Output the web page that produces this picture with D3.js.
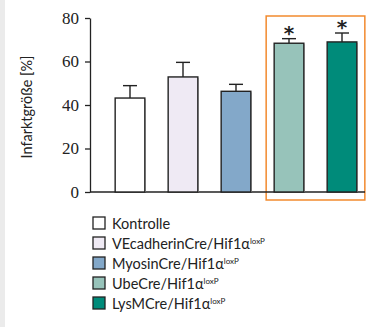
<!DOCTYPE html>
<html>
<head>
<meta charset="utf-8">
<script src="https://cdn.jsdelivr.net/npm/d3@7"></script>
<style>
  body { margin: 0; background: #fff; }
  svg { display: block; }
</style>
</head>
<body>
<div id="chart"></div>
<script>
// data
const groups = ['Kontrolle', 'VEcadherinCre', 'MyosinCre', 'UbeCre', 'LysMCre']
const values = [43.2, 52.9, 46.3, 68.4, 69.0]
const errors = [5.7, 6.7, 3.2, 2.1, 4.1]
const significant = [false, false, false, true, true]
const colors = ['#ffffff', '#efeaf4', '#83a8c9', '#97c3ba', '#008b7a']
const yTicks = [0, 20, 40, 60, 80]

const width = 372
const height = 327

const svg = d3.select('#chart')
  .append('svg')
  .attr('width', width)
  .attr('height', height)

// grey strip at left edge
svg.append('rect')
  .attr('x', 0).attr('y', 0)
  .attr('width', 5).attr('height', height)
  .attr('fill', '#ebebeb')

const x = d3.scaleBand()
  .domain(groups)
  .range([103.5, 368.5])
  .paddingInner(0.44)
  .paddingOuter(0.22)

const y = d3.scaleLinear()
  .domain([0, 80])
  .range([192, 18])

// highlight box round the two significant groups
const boxL = x('UbeCre') - 8
const boxR = x('LysMCre') + x.bandwidth() + 8
svg.append('rect')
  .attr('x', boxL)
  .attr('y', y(80) - 2)
  .attr('width', boxR - boxL)
  .attr('height', y(0) - y(80) + 10)
  .attr('fill', 'none')
  .attr('stroke', '#f28a2e')
  .attr('stroke-width', 1.5)

// y axis
const yAxisG = svg.append('g')
  .attr('transform', 'translate(90,0)')
  .call(d3.axisLeft(y).tickValues(yTicks).tickSize(5).tickSizeOuter(0).tickPadding(6))
yAxisG.selectAll('path, line').attr('stroke', '#222').attr('stroke-width', 1.3)
yAxisG.selectAll('text')
  .attr('fill', '#222')
  .style('font-family', '"Liberation Serif", "DejaVu Serif", serif')
  .style('font-size', '17px')

// x axis line
svg.append('line')
  .attr('x1', 90).attr('x2', 365)
  .attr('y1', y(0)).attr('y2', y(0))
  .attr('stroke', '#222')
  .attr('stroke-width', 1.3)

// y label
svg.append('text')
  .attr('transform', `translate(32,${(y(0) + y(80)) / 2 + 2}) rotate(-90)`)
  .attr('text-anchor', 'middle')
  .attr('fill', '#222')
  .style('font-family', 'Lato, "Open Sans", sans-serif')
  .style('font-size', '14.5px')
  .text('Infarktgröße [%]')

const data = groups.map((g, i) => ({ g, v: values[i], e: errors[i], s: significant[i], c: colors[i] }))

// bar shadows
svg.append('g').selectAll('rect')
  .data(data)
  .enter()
  .append('rect')
  .attr('x', d => x(d.g) + 1)
  .attr('y', d => y(d.v) + 1)
  .attr('width', x.bandwidth())
  .attr('height', d => y(0) - y(d.v) - 1)
  .attr('fill', '#c8c8c8')

// error bars
const err = svg.append('g').attr('stroke', '#222').attr('stroke-width', 1.4)
data.forEach(d => {
  const cx = x(d.g) + x.bandwidth() / 2
  err.append('line')
    .attr('x1', cx).attr('x2', cx)
    .attr('y1', y(d.v)).attr('y2', y(d.v + d.e))
  err.append('line')
    .attr('x1', cx - 7).attr('x2', cx + 7)
    .attr('y1', y(d.v + d.e)).attr('y2', y(d.v + d.e))
})

// bars
svg.append('g').selectAll('rect')
  .data(data)
  .enter()
  .append('rect')
  .attr('x', d => x(d.g))
  .attr('y', d => y(d.v))
  .attr('width', x.bandwidth())
  .attr('height', d => y(0) - y(d.v))
  .attr('fill', d => d.c)
  .attr('stroke', '#222')
  .attr('stroke-width', 1.4)

// significance stars
svg.append('g').selectAll('text')
  .data(data.filter(d => d.s))
  .enter()
  .append('text')
  .attr('x', d => x(d.g) + x.bandwidth() / 2)
  .attr('y', d => y(d.v + d.e) + 1)
  .attr('text-anchor', 'middle')
  .attr('fill', '#222')
  .style('font-family', '"DejaVu Sans", sans-serif')
  .style('font-size', '20px')
  .style('font-weight', 'bold')
  .text('*')

// legend
const legend = svg.append('g').attr('transform', 'translate(93,223)')
const item = legend.selectAll('g')
  .data(data)
  .enter()
  .append('g')
  .attr('transform', (d, i) => `translate(0,${i * 20})`)
item.append('rect')
  .attr('x', 0).attr('y', -6)
  .attr('width', 12).attr('height', 12)
  .attr('fill', d => d.c)
  .attr('stroke', '#222')
  .attr('stroke-width', 1.3)
const label = item.append('text')
  .attr('x', 19)
  .attr('y', 5.5)
  .attr('fill', '#222')
  .style('font-family', 'Lato, "Open Sans", sans-serif')
  .style('font-size', '14.5px')
label.append('tspan').text(d => d.g === 'Kontrolle' ? d.g : d.g + '/Hif1α')
label.filter(d => d.g !== 'Kontrolle')
  .append('tspan')
  .attr('dy', -5)
  .style('font-size', '8px')
  .text('loxP')
</script>
</body>
</html>
